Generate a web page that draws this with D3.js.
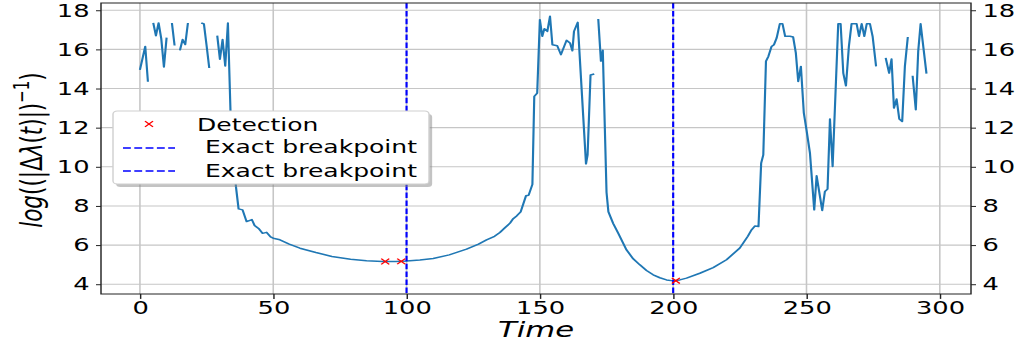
<!DOCTYPE html>
<html>
<head>
<meta charset="utf-8">
<script src="https://cdn.jsdelivr.net/npm/d3@7"></script>
<style>
  body { margin: 0; background: #fff; }
  svg { display: block; }
  text { font-family: "DejaVu Sans", sans-serif; fill: #000; }
</style>
</head>
<body>
<svg id="chart" width="1021" height="347"></svg>
<script>
// The reference figure is stretched sideways, so everything is drawn in
// 714-unit-wide space and the whole group is scaled by SX.
const SX = 1021 / 714;

// ---------------------------------------------------------------------------
// Data (null = gap in the curve)
// ---------------------------------------------------------------------------
const time = [
  0, 2, 3, 4,
  5, 6, 7, 8, 9, 10, 11,
  12, 13, 14,
  15, 16, 17, 18, 20,
  23, 24, 25, 26, 27,
  29, 30, 31, 32, 33, 34, 36, 37, 38.5, 40, 42, 43, 44.5, 46, 47.5, 49, 50, 52.5,
  56, 60, 66, 72, 79, 85, 91, 96, 100, 105, 110, 116, 122.5, 127, 130, 133, 135,
  137, 138.8, 140, 141.3, 142.8, 144.8, 145.8, 147.2, 147.9, 149, 150, 150.9,
  151.7, 152.8, 153.8, 154.7, 156.5, 157.9, 160, 161.3, 162.2, 162.8, 164.2,
  167.3, 167.9, 169, 170.4, 171,
  171.9, 172.9, 173.6, 175, 175.7, 177.5, 179.4, 182.5, 185, 187.5, 190, 192.5,
  195, 197.5, 200, 202.5, 205, 210, 215, 220, 225, 228, 229.4, 230.7, 232, 233,
  233.8, 234.8, 235.7, 236.9, 237.8, 238.8, 240, 241, 242, 243.8, 245, 246,
  246.9, 247.9, 249, 250, 251.3, 252.9, 253.8, 255.9, 256.9, 257.9, 258.8, 259.8,
  261.9, 262.8, 263.8, 264.8, 265.9, 266.9, 268.8, 269.7, 270.7, 271.7, 272.6,
  273.8, 274.8, 276.1, 278,
  279.7, 281, 281.9, 282.8, 283.8, 284.8, 285.9, 286.9, 288, 289,
  289.8, 291, 291.9, 292.8, 295
];
const logInv = [
  14.95, 16.15, 14.35, null,
  17.35, 16.7, 17.35, 16.55, 15.1, 16.6, null,
  17.35, 16.2, null,
  15.95, 16.5, 16.25, 17.35, null,
  17.35, 17.3, 16.2, 15.05, null,
  16.7, 15.5, 16.5, 15.15, 17.35, 12.7, 9.0, 7.85, 7.8, 7.2, 7.3, 7.0, 6.85, 6.6, 6.65, 6.42, 6.35, 6.27,
  6.05, 5.84, 5.62, 5.42, 5.28, 5.2, 5.16, 5.16, 5.19, 5.24, 5.31, 5.5, 5.79, 6.05, 6.27, 6.45, 6.64,
  6.9, 7.12, 7.35, 7.49, 7.7, 8.52, 8.55, 9.1, 13.6, 13.77, 17.52, 16.67,
  17.06, 16.92, 17.69, 16.24, 16.19, 15.73, 16.46, 16.33, 15.93, 16.92, 17.38,
  10.15, 10.61, 14.69, 14.74, null,
  17.55, 15.4, 15.95, 8.7, 7.7, 7.1, 6.6, 5.75, 5.3, 4.99, 4.7, 4.48,
  4.33, 4.22, 4.17, 4.22, 4.31, 4.56, 4.85, 5.25, 5.85, 6.45, 6.78, 6.98, 6.95, 10.19,
  10.61, 15.39, 15.64, 16.15, 16.24, 16.58, 17.31, 17.31, 16.67, 16.67, 16.63, 15.82,
  14.36, 15.13, 12.75, 11.89, 10.7, 7.8, 9.54, 7.77, 8.74, 8.86, 12.44, 10.02,
  17.31, 17.31, 14.79, 14.14, 16.15, 17.31, 17.31, 16.67, 17.31, 16.67, 17.31,
  17.31, 16.67, 15.13, null,
  15.56, 14.79, 15.51, 13.0, 13.46, 12.44, 12.32, 15.13, 16.63, null,
  14.65, 12.92, 15.9, 17.31, 14.76
];

const detectTime  = [92, 98, 201];
const detectValue = [5.16, 5.17, 4.18];
const breakpoints = [100, 200];

const xTicks = [0, 50, 100, 150, 200, 250, 300];
const yTicks = [4, 6, 8, 10, 12, 14, 16, 18];
const legendLabels = ["Detection", " Exact breakpoint", " Exact breakpoint"];

// ---------------------------------------------------------------------------
// Layout (in unstretched units)
// ---------------------------------------------------------------------------
const plotL = 101 / SX, plotR = 971 / SX, plotT = 3, plotB = 294;

const x = d3.scaleLinear().domain([-14.6, 311.7]).range([plotL, plotR]);
const y = d3.scaleLinear().domain([3.5, 18.37]).range([plotB, plotT]);

const svg = d3.select("#chart");
const g = svg.append("g").attr("transform", `scale(${SX},1)`);

// Grid lines sit underneath everything else.
const grid = g.append("g").attr("stroke", "#c6c6c6").attr("stroke-width", 1.1);
grid.selectAll(".gx").data(xTicks).join("line")
  .attr("x1", d => x(d)).attr("x2", d => x(d))
  .attr("y1", plotT).attr("y2", plotB);
grid.selectAll(".gy").data(yTicks).join("line")
  .attr("x1", plotL).attr("x2", plotR)
  .attr("y1", d => y(d)).attr("y2", d => y(d));

// Axes: left, right (duplicate labels) and bottom.
function styleAxis(sel) {
  sel.select(".domain").remove();
  sel.selectAll(".tick line").attr("stroke", "#222");
  sel.selectAll(".tick text").attr("font-size", 18).attr("fill", "#000")
    .style("font-family", "DejaVu Sans");
}

g.append("g").attr("transform", `translate(${plotL},0)`)
  .call(d3.axisLeft(y).tickValues(yTicks).tickSize(3.5).tickPadding(4.5))
  .call(styleAxis);

g.append("g").attr("transform", `translate(${plotR},0)`)
  .call(d3.axisRight(y).tickValues(yTicks).tickSize(3.5).tickPadding(4.5))
  .call(styleAxis);

g.append("g").attr("transform", `translate(0,${plotB})`)
  .call(d3.axisBottom(x).tickValues(xTicks).tickSize(4.9).tickPadding(2))
  .call(styleAxis);

// Data curve
const pts = time.map((t, i) => [t, logInv[i]]);
const line = d3.line()
  .defined(d => d[1] !== null)
  .x(d => x(d[0]))
  .y(d => y(d[1]));

g.append("path")
  .datum(pts)
  .attr("fill", "none")
  .attr("stroke", "#1f77b4")
  .attr("stroke-width", 1.5)
  .attr("stroke-linejoin", "round")
  .attr("d", line);

// Exact breakpoints
g.selectAll(".bp").data(breakpoints).join("line")
  .attr("x1", d => x(d)).attr("x2", d => x(d))
  .attr("y1", plotT).attr("y2", plotB)
  .attr("stroke", "#0000ff")
  .attr("stroke-width", 1.5)
  .attr("stroke-dasharray", "5.5,2.4");

// Detections (red x markers)
const xMark = (cx, cy, r) =>
  `M${cx - r},${cy - r}L${cx + r},${cy + r}M${cx - r},${cy + r}L${cx + r},${cy - r}`;

g.selectAll(".det").data(detectTime).join("path")
  .attr("d", (d, i) => xMark(x(d), y(detectValue[i]), 2.8))
  .attr("stroke", "#ff0000")
  .attr("stroke-width", 1.1)
  .attr("fill", "none");

// Frame
g.append("rect")
  .attr("x", plotL).attr("y", plotT)
  .attr("width", plotR - plotL).attr("height", plotB - plotT)
  .attr("fill", "none").attr("stroke", "#222").attr("stroke-width", 1);

// Axis labels
g.append("text")
  .attr("x", (plotL + plotR) / 2).attr("y", 337)
  .attr("text-anchor", "middle")
  .attr("font-size", 21.5)
  .attr("font-style", "italic")
  .text("Time");

const yl = g.append("text")
  .attr("transform", `translate(${42 / SX},150) rotate(-90)`)
  .attr("text-anchor", "middle")
  .attr("font-size", 21.5);
yl.append("tspan").attr("font-style", "italic").text("log");
yl.append("tspan").text("((|Δ");
yl.append("tspan").attr("font-style", "italic").text("λ");
yl.append("tspan").text("(");
yl.append("tspan").attr("font-style", "italic").text("t");
yl.append("tspan").text(")|)");
yl.append("tspan").attr("font-size", 15).attr("dy", -9).text("−1");
yl.append("tspan").attr("dy", 9).text(")");

// Legend
const lg = g.append("g");
const bx0 = 113 / SX, bx1 = 429 / SX, by0 = 111, by1 = 184;
lg.append("rect")
  .attr("x", bx0 + 2.2).attr("y", by0 + 3)
  .attr("width", bx1 - bx0).attr("height", by1 - by0)
  .attr("rx", 3).attr("fill", "#888").attr("opacity", 0.5);
lg.append("rect")
  .attr("x", bx0).attr("y", by0)
  .attr("width", bx1 - bx0).attr("height", by1 - by0)
  .attr("rx", 3).attr("fill", "#fff").attr("stroke", "#d0d0d0").attr("stroke-width", 1);

const rowY = [124, 148, 171];
const baseY = [130.7, 153.3, 176.7];

lg.append("path")
  .attr("d", xMark(149 / SX, rowY[0], 2.8))
  .attr("stroke", "#ff0000").attr("stroke-width", 1.1).attr("fill", "none");

[1, 2].forEach(i => {
  lg.append("line")
    .attr("x1", 123 / SX).attr("x2", 175 / SX)
    .attr("y1", rowY[i]).attr("y2", rowY[i])
    .attr("stroke", "#0000ff").attr("stroke-width", 1.5)
    .attr("stroke-dasharray", "5.5,2.4");
});

legendLabels.forEach((lab, i) => {
  lg.append("text")
    .attr("x", 197 / SX).attr("y", baseY[i])
    .attr("font-size", 17.5)
    .style("white-space", "pre")
    .text(lab);
});
</script>
</body>
</html>
